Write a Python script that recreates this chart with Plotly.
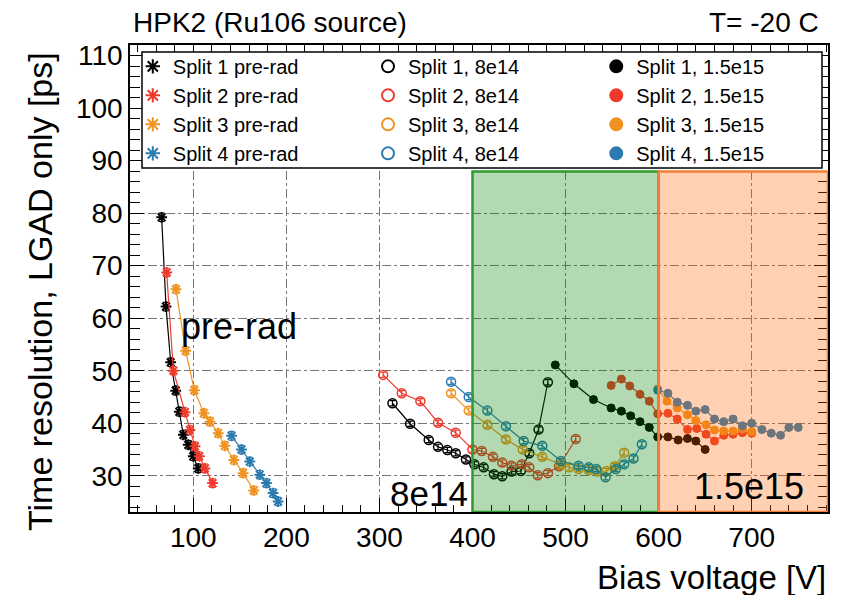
import plotly.graph_objects as go

# ---------------- data ----------------
# pre-rad
v_s1_pre = [66, 70.7, 75.7, 81.1, 85, 89.3, 94.6, 100, 105.4]
t_s1_pre = [79.2, 62.2, 51.6, 46.2, 42.2, 37.8, 35.9, 33.7, 31.4]
v_s2_pre = [71.4, 78.6, 91.1, 96.4, 101.8, 106.4, 112.5, 120.7]
t_s2_pre = [68.7, 50.0, 42.1, 38.7, 35.6, 33.7, 31.4, 28.6]
v_s3_pre = [81.4, 91.8, 101.1, 111.4, 117.9, 126.8, 133.9, 143.6, 153.6, 165.0]
t_s3_pre = [65.5, 53.8, 46.3, 41.9, 40.3, 38.1, 35.7, 33.0, 30.5, 27.2]
v_s4_pre = [141.1, 151.8, 160.7, 171.4, 178.6, 185.7, 191.1]
t_s4_pre = [37.6, 35.0, 32.7, 30.2, 28.6, 26.7, 25.1]

# 8e14
v_s1_8e14 = [314, 333, 353, 363, 373, 382, 393, 402, 412, 423, 432, 442, 452, 461, 471, 481]
t_s1_8e14 = [43.8, 39.9, 36.8, 35.5, 34.9, 34.3, 33.1, 32.2, 31.6, 30.3, 29.9, 30.8, 30.9, 34.3, 38.8, 47.8]
v_s2_8e14 = [304, 324, 344, 363, 382, 400, 410, 422, 432, 442, 453, 461, 470, 481, 493, 511]
t_s2_8e14 = [49.2, 45.7, 44.2, 40.1, 38.2, 35.0, 34.7, 33.6, 32.5, 31.9, 32.2, 31.6, 30.1, 30.5, 31.8, 37.0]
v_s3_8e14 = [377, 396, 416, 436, 454, 475, 495, 504, 514, 525, 534, 544, 553, 563]
t_s3_8e14 = [45.7, 42.4, 39.7, 36.9, 35.0, 33.6, 32.2, 31.6, 31.3, 31.1, 30.8, 30.9, 31.8, 34.4]
v_s4_8e14 = [377, 396, 416, 436, 455, 475, 495, 514, 525, 533, 543, 554, 563, 573, 582]
t_s4_8e14 = [47.9, 45.0, 42.4, 39.4, 36.6, 35.7, 32.8, 31.9, 31.6, 31.3, 29.7, 31.3, 32.2, 33.3, 36.0]

# 1.5e15
v_s1_15e15 = [489, 509, 530, 549, 560, 570, 580, 590, 599, 610, 621, 631, 640, 650]
t_s1_15e15 = [51.1, 47.5, 44.5, 42.9, 42.3, 41.4, 40.3, 39.2, 37.4, 37.4, 36.8, 37.1, 36.6, 35.0]
v_s2_15e15 = [549, 560, 569, 580, 590, 599, 610, 620, 631, 641, 651, 660, 670, 680, 690, 700]
t_s2_15e15 = [47.2, 48.4, 47.1, 45.5, 44.2, 41.8, 41.9, 40.8, 38.8, 39.0, 37.9, 36.6, 37.7, 37.9, 38.2, 38.1]
v_s3_15e15 = [599, 609, 620, 631, 640, 651, 660, 670, 680, 690, 700]
t_s3_15e15 = [46.5, 44.2, 42.9, 41.6, 40.5, 39.7, 38.7, 38.5, 38.5, 38.9, 38.4]
v_s4_15e15 = [599, 610, 620, 631, 640, 650, 660, 670, 680, 690, 700, 711, 721, 731, 740, 750]
t_s4_15e15 = [46.3, 45.7, 44.0, 43.4, 42.3, 42.6, 40.8, 40.3, 40.8, 39.5, 40.0, 38.8, 38.1, 37.7, 39.2, 39.2]

err_pre = 0.8
err_8e14 = 0.5
err_15e15 = 0.5

series_names_pre = ["Split 1 pre-rad", "Split 2 pre-rad", "Split 3 pre-rad", "Split 4 pre-rad"]
series_names_8e14 = ["Split 1, 8e14", "Split 2, 8e14", "Split 3, 8e14", "Split 4, 8e14"]
series_names_15e15 = ["Split 1, 1.5e15", "Split 2, 1.5e15", "Split 3, 1.5e15", "Split 4, 1.5e15"]

x_ticks = [100, 200, 300, 400, 500, 600, 700]
y_ticks = [30, 40, 50, 60, 70, 80, 90, 100, 110]

colors = ["#000000", "#ee3a2c", "#ef9220", "#2c7bb0"]
FONT = "Liberation Sans, Arial, sans-serif"

# ---------------- figure ----------------
fig = go.Figure()

groups = [
    ([(v_s1_pre, t_s1_pre), (v_s2_pre, t_s2_pre), (v_s3_pre, t_s3_pre), (v_s4_pre, t_s4_pre)],
     series_names_pre, "asterisk-open", err_pre, "legend"),
    ([(v_s1_8e14, t_s1_8e14), (v_s2_8e14, t_s2_8e14), (v_s3_8e14, t_s3_8e14), (v_s4_8e14, t_s4_8e14)],
     series_names_8e14, "circle-open", err_8e14, "legend2"),
    ([(v_s1_15e15, t_s1_15e15), (v_s2_15e15, t_s2_15e15), (v_s3_15e15, t_s3_15e15), (v_s4_15e15, t_s4_15e15)],
     series_names_15e15, "circle", err_15e15, "legend3"),
]

for data, names, sym, err, leg in groups:
    for i, ((xv, yv), name) in enumerate(zip(data, names)):
        c = colors[i]
        if sym == "asterisk-open":
            mk = dict(symbol=sym, size=9, color=c, line=dict(color=c, width=2))
        elif sym == "circle-open":
            mk = dict(symbol=sym, size=9, color=c, line=dict(color=c, width=1.5))
        else:
            mk = dict(symbol=sym, size=8, color=c, line=dict(color=c, width=1))
        fig.add_trace(go.Scatter(
            x=xv, y=yv, mode="lines+markers", name=name, showlegend=False,
            line=dict(color=c, width=1.2), marker=mk,
            error_y=dict(type="constant", value=err, color=c, thickness=1.2, width=3),
        ))
        # legend-only entry (marker only)
        fig.add_trace(go.Scatter(
            x=[None], y=[None], mode="markers", name=name, legend=leg,
            legendgroup=name, marker=mk,
        ))

xr = [32, 782]
yr = [23.1, 112.0]

shapes = [
    # legend frame
    dict(type="rect", xref="paper", yref="paper", x0=12 / 698, x1=692 / 698,
         y0=(512 - 168) / 467, y1=(512 - 52) / 467, fillcolor="white",
         line=dict(color="black", width=1.5), layer="above"),
    # 8e14 region
    dict(type="rect", xref="x", yref="y", x0=400, x1=600, y0=yr[0], y1=87.9,
         fillcolor="rgba(0,128,0,0.3)", line=dict(color="#2e9a2e", width=2.5), layer="above"),
    # 1.5e15 region
    dict(type="rect", xref="x", yref="y", x0=600, x1=xr[1], y0=yr[0], y1=87.9,
         fillcolor="rgba(255,102,0,0.3)", line=dict(color="#f47c34", width=2.5), layer="above"),
]

annotations = [
    dict(text="HPK2 (Ru106 source)", xref="paper", yref="paper", x=1 / 698, y=(512 - 22) / 467,
         xanchor="left", yanchor="middle", showarrow=False, font=dict(size=28, color="black", family=FONT)),
    dict(text="T= -20 C", xref="paper", yref="paper", x=691 / 698, y=(512 - 22) / 467,
         xanchor="right", yanchor="middle", showarrow=False, font=dict(size=28, color="black", family=FONT)),
    dict(text="pre-rad", xref="x", yref="y", x=85.0, y=58.5, xanchor="left", yanchor="middle",
         showarrow=False, font=dict(size=36, color="black", family=FONT)),
    dict(text="8e14", xref="x", yref="y", x=309, y=26.7, xanchor="left", yanchor="middle",
         showarrow=False, font=dict(size=35, color="black", family=FONT)),
    dict(text="1.5e15", xref="x", yref="y", x=636, y=27.9, xanchor="left", yanchor="middle",
         showarrow=False, font=dict(size=36, color="black", family=FONT)),
    # axis titles (ROOT-style placement)
    dict(text="Bias voltage [V]", xref="paper", yref="paper", x=1.0, y=(512 - 577) / 467,
         xanchor="right", yanchor="middle", showarrow=False, font=dict(size=33, color="black", family=FONT)),
    dict(text="Time resolution, LGAD only [ps]", xref="paper", yref="paper", x=(40 - 130) / 698,
         y=(512 - 292) / 467, xanchor="center", yanchor="middle", textangle=-90, showarrow=False,
         font=dict(size=34, color="black", family=FONT)),
]

leg_common = dict(orientation="v", bgcolor="rgba(0,0,0,0)", borderwidth=0,
                  font=dict(size=20, color="black", family=FONT), tracegroupgap=0,
                  xanchor="left", yanchor="top", itemsizing="constant")

fig.update_layout(
    width=841, height=595,
    margin=dict(l=130, r=13, t=45, b=83),
    paper_bgcolor="white", plot_bgcolor="white",
    font=dict(family=FONT, color="black"),
    showlegend=True,
    legend=dict(x=0.004, y=0.996, **leg_common),
    legend2=dict(x=0.341, y=0.996, **leg_common),
    legend3=dict(x=0.668, y=0.996, **leg_common),
    shapes=shapes,
    annotations=annotations,
    xaxis=dict(range=xr, tickvals=x_ticks, ticktext=[str(v) for v in x_ticks],
               ticks="inside", ticklen=14, tickwidth=1, tickcolor="black",
               minor=dict(dtick=20, ticks="inside", ticklen=7, tickcolor="black", showgrid=False),
               showline=True, linecolor="black", linewidth=1.5, mirror="ticks",
               showgrid=True, gridcolor="#777777", griddash="dashdot", gridwidth=1,
               zeroline=False, tickfont=dict(size=28, family=FONT)),
    yaxis=dict(range=yr, tickvals=y_ticks, ticktext=[str(v) for v in y_ticks],
               ticks="inside", ticklen=14, tickwidth=1, tickcolor="black",
               minor=dict(dtick=2, ticks="inside", ticklen=10, tickcolor="black", showgrid=False),
               showline=True, linecolor="black", linewidth=1.5, mirror="ticks",
               showgrid=True, gridcolor="#777777", griddash="dashdot", gridwidth=1,
               zeroline=False, tickfont=dict(size=28, family=FONT)),
)

fig.write_html("out.html")
